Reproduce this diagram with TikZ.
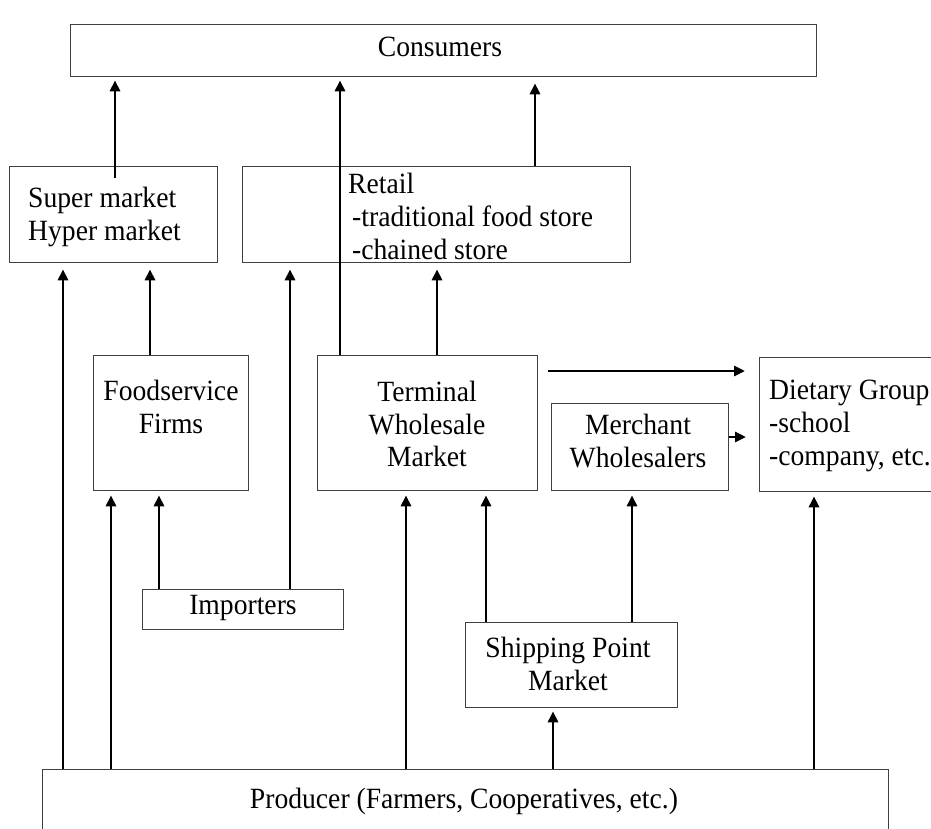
\documentclass[tikz,border=0pt]{standalone}
\usepackage{fontspec}
\setmainfont{Liberation Serif}[FakeStretch=0.94]
\usetikzlibrary{arrows.meta}
\begin{document}
\begin{tikzpicture}[x=1bp,y=-1bp,
  box/.style={draw=black!75, line width=1.3bp, rectangle, inner sep=0pt, anchor=north west},
  flow/.style={line width=2.7bp, -{Triangle[length=11bp,width=10bp]}},
  lbl/.style={font=\fontsize{29.5}{33}\selectfont, inner sep=0pt, align=center},
  lbll/.style={font=\fontsize{29.5}{33}\selectfont, inner sep=0pt, align=left, anchor=north west}]
\useasboundingbox (0,0) rectangle (931,829);
\clip (0,0) rectangle (931,829);

% boxes
\node[box, minimum width=746bp, minimum height=52bp] (cons) at (70,24) {};
\node[box, minimum width=208bp, minimum height=96bp] (super) at (9,166) {};
\node[box, minimum width=388bp, minimum height=96bp] (retail) at (242,166) {};
\node[box, minimum width=155bp, minimum height=135bp] (food) at (93,355) {};
\node[box, minimum width=220bp, minimum height=135bp] (term) at (317,355) {};
\node[box, minimum width=177bp, minimum height=87bp] (merch) at (551,403) {};
\node[box, minimum width=220bp, minimum height=134bp] (diet) at (759,357) {};
\node[box, minimum width=201bp, minimum height=40bp] (imp) at (142,589) {};
\node[box, minimum width=212bp, minimum height=85bp] (ship) at (465,622) {};
\node[box, minimum width=846bp, minimum height=90bp] (prod) at (42,769) {};

% labels
\node[lbl] (consT) at (440,47) {Consumers};
\node[lbll] (superT) at (28,187) {Super market\\Hyper market};
\node[lbll] (retailT) at (348,173) {Retail\\\hspace*{4bp}-traditional food store\\\hspace*{4bp}-chained store};
\node[lbl] (foodT) at (171,407) {Foodservice\\Firms};
\node[lbl] (termT) at (427,424) {Terminal\\Wholesale\\Market};
\node[lbl] (merchT) at (638,441) {Merchant\\Wholesalers};
\node[lbll] (dietT) at (769,380) {Dietary Group\\-school\\-company, etc.};
\node[lbl] (impT) at (243,608) {Importers};
\node[lbl] (shipT) at (568,664) {Shipping Point\\Market};
\node[lbl] (prodT) at (464,801) {Producer (Farmers, Cooperatives, etc.)};

% x positions of the vertical flows
\foreach \n/\x in {a/63,b/111,c/406,d/553,e/814,f/150,g/290,h/437,i/115,j/340,k/535,l/159,m/486,n/632}
  \coordinate (x\n) at (\x,0);
\coordinate (superTail) at (115,178);

% producer upwards
\draw[flow, shorten >=6bp] (prod.north -| xa) -- (super.south -| xa);
\draw[flow, shorten >=4bp] (prod.north -| xb) -- (food.south -| xb);
\draw[flow, shorten >=4bp] (prod.north -| xc) -- (term.south -| xc);
\draw[flow, shorten >=3bp] (prod.north -| xd) -- (ship.south -| xd);
\draw[flow, shorten >=4bp] (prod.north -| xe) -- (diet.south -| xe);

% intermediate flows
\draw[flow, shorten >=6bp] (food.north -| xf) -- (super.south -| xf);
\draw[flow, shorten >=6bp] (imp.north -| xg) -- (retail.south -| xg);
\draw[flow, shorten >=6bp] (term.north -| xh) -- (retail.south -| xh);
\draw[flow, shorten >=4bp] (imp.north -| xl) -- (food.south -| xl);
\draw[flow, shorten >=4bp] (ship.north -| xm) -- (term.south -| xm);
\draw[flow, shorten >=4bp] (ship.north -| xn) -- (merch.south -| xn);

% into consumers
\draw[flow, shorten >=3bp] (superTail) -- (cons.south -| xi);
\draw[flow, shorten >=3bp] (term.north -| xj) -- (cons.south -| xj);
\draw[flow, shorten >=6bp] (retail.north -| xk) -- (cons.south -| xk);

% towards dietary group
\coordinate (tRight) at (548,371);
\draw[flow, shorten >=14bp] (tRight) -- (tRight -| diet.west);
\draw[flow, shorten >=13bp] (merch.east |- 0,437) -- (diet.west |- 0,437);
\end{tikzpicture}
\end{document}
